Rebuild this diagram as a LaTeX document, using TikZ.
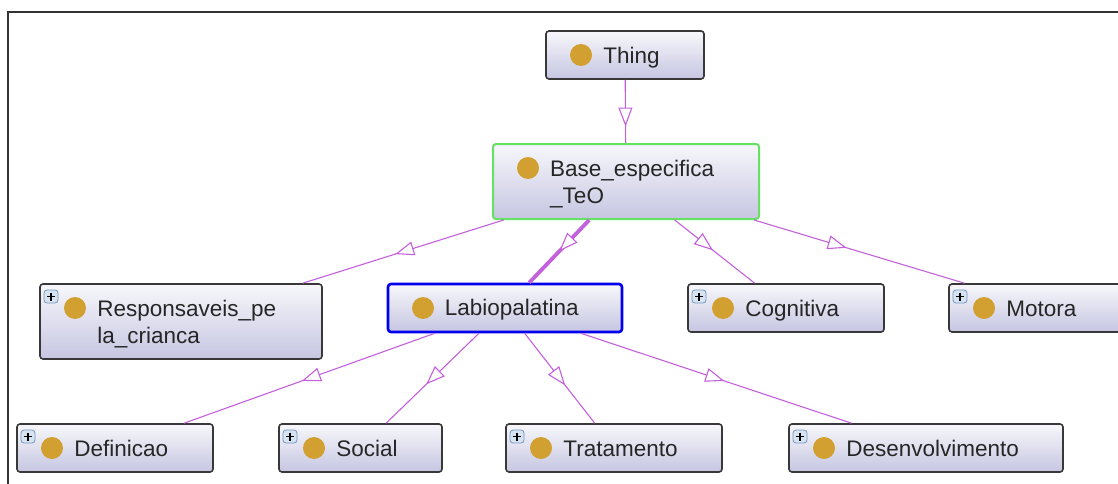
\documentclass[tikz,border=0pt]{standalone}
\usepackage{fontspec}
\setmainfont{Liberation Sans}
\usetikzlibrary{arrows.meta,decorations.markings}

\definecolor{isacolor}{RGB}{196,96,220}
\definecolor{clsgold}{RGB}{210,160,48}
\definecolor{clsedge}{RGB}{56,56,56}
\definecolor{clstop}{RGB}{247,247,251}
\definecolor{clsbottom}{RGB}{198,198,226}
\definecolor{clsgreen}{RGB}{100,226,100}
\definecolor{clsblue}{RGB}{0,0,238}
\definecolor{iconfill}{RGB}{214,228,242}
\definecolor{iconedge}{RGB}{118,150,190}

\newcommand{\clsdot}{%
  \fill[clsgold] ([xshift=35pt,yshift=-24pt]path picture bounding box.north west) circle (11pt);}
\newcommand{\clsicon}{%
  \filldraw[draw=iconedge,fill=iconfill,line width=0.8pt]
    ([xshift=4pt,yshift=-6pt]path picture bounding box.north west) rectangle ++(14pt,-13pt);
  \draw[black,line width=1.5pt]
    ([xshift=11pt,yshift=-8.5pt]path picture bounding box.north west) -- ++(0pt,-8pt)
    ([xshift=7pt,yshift=-12.5pt]path picture bounding box.north west) -- ++(8pt,0pt);}

\tikzset{
  cls/.style={rectangle, rounded corners=3pt, draw=clsedge, line width=1.6pt,
    top color=clstop, bottom color=clsbottom, minimum height=48pt, inner sep=0pt,
    path picture={\clsdot}},
  clsplus/.style={cls, path picture={\clsdot\clsicon}},
  clsbase/.style={cls, draw=clsgreen, line width=2pt},
  clssel/.style={cls, draw=clsblue, line width=2.6pt},
  clstext/.style={font=\fontsize{22.5}{27}\selectfont, text=black!85, inner sep=0pt,
    anchor=base west, align=left},
  isa/.style={draw=isacolor, line width=1.1pt, postaction={decorate},
    decoration={markings, mark=at position #1 with
      {\arrow{Triangle[length=19pt, width=14pt, fill=white, line width=1.1pt]}}}},
  isa/.default=0.55,
  isasel/.style={isa=#1, line width=3.8pt},
}

\begin{document}
\begin{tikzpicture}[x=1pt,y=-1pt]
  \useasboundingbox (0,0) rectangle (1118,484);
  \draw[line width=1.3pt, black!80] (8,484) -- (8,12) -- (1118,12);

  % classes
  \node[cls, minimum width=158pt] (thing) at (625,55) {};
  \node[clsbase, minimum width=266pt, minimum height=75pt] (base) at (626,181.5) {};
  \node[clsplus, minimum width=282pt, minimum height=75pt] (resp) at (181,321.5) {};
  \node[clssel, minimum width=234pt] (labio) at (505,308) {};
  \node[clsplus, minimum width=196pt] (cog) at (786,308) {};
  \node[clsplus, minimum width=196pt] (motora) at (1047,308) {};
  \node[clsplus, minimum width=196pt] (def) at (115,448) {};
  \node[clsplus, minimum width=163pt] (social) at (360.5,448) {};
  \node[clsplus, minimum width=216pt] (trat) at (614,448) {};
  \node[clsplus, minimum width=274pt] (desen) at (926,448) {};

  % labels (two-line labels sit on their last line)
  \node[clstext] (thinglbl) at ([xshift=58pt,yshift=-33pt]thing.north west) {Thing};
  \node[clstext] (baselbl) at ([xshift=58pt,yshift=-60pt]base.north west) {Base\_especifica\\\_TeO};
  \node[clstext] (resplbl) at ([xshift=58pt,yshift=-60pt]resp.north west) {Responsaveis\_pe\\la\_crianca};
  \node[clstext] (labiolbl) at ([xshift=58pt,yshift=-33pt]labio.north west) {Labiopalatina};
  \node[clstext] (coglbl) at ([xshift=58pt,yshift=-33pt]cog.north west) {Cognitiva};
  \node[clstext] (motoralbl) at ([xshift=58pt,yshift=-33pt]motora.north west) {Motora};
  \node[clstext] (deflbl) at ([xshift=58pt,yshift=-33pt]def.north west) {Definicao};
  \node[clstext] (sociallbl) at ([xshift=58pt,yshift=-33pt]social.north west) {Social};
  \node[clstext] (tratlbl) at ([xshift=58pt,yshift=-33pt]trat.north west) {Tratamento};
  \node[clstext] (desenlbl) at ([xshift=58pt,yshift=-33pt]desen.north west) {Desenvolvimento};

  % subclass edges
  \draw[isa=0.74] (thing) -- (base);
  \draw[isa=0.54] (base) -- (resp);
  \draw[isasel=0.50] (base) -- (labio);
  \draw[isa=0.48] (base) -- (cog);
  \draw[isa=0.44] (base) -- (motora);
  \draw[isa=0.53] (labio) -- (def);
  \draw[isa=0.57] (labio) -- (social);
  \draw[isa=0.58] (labio) -- (trat);
  \draw[isa=0.53] (labio) -- (desen);
\end{tikzpicture}
\end{document}
